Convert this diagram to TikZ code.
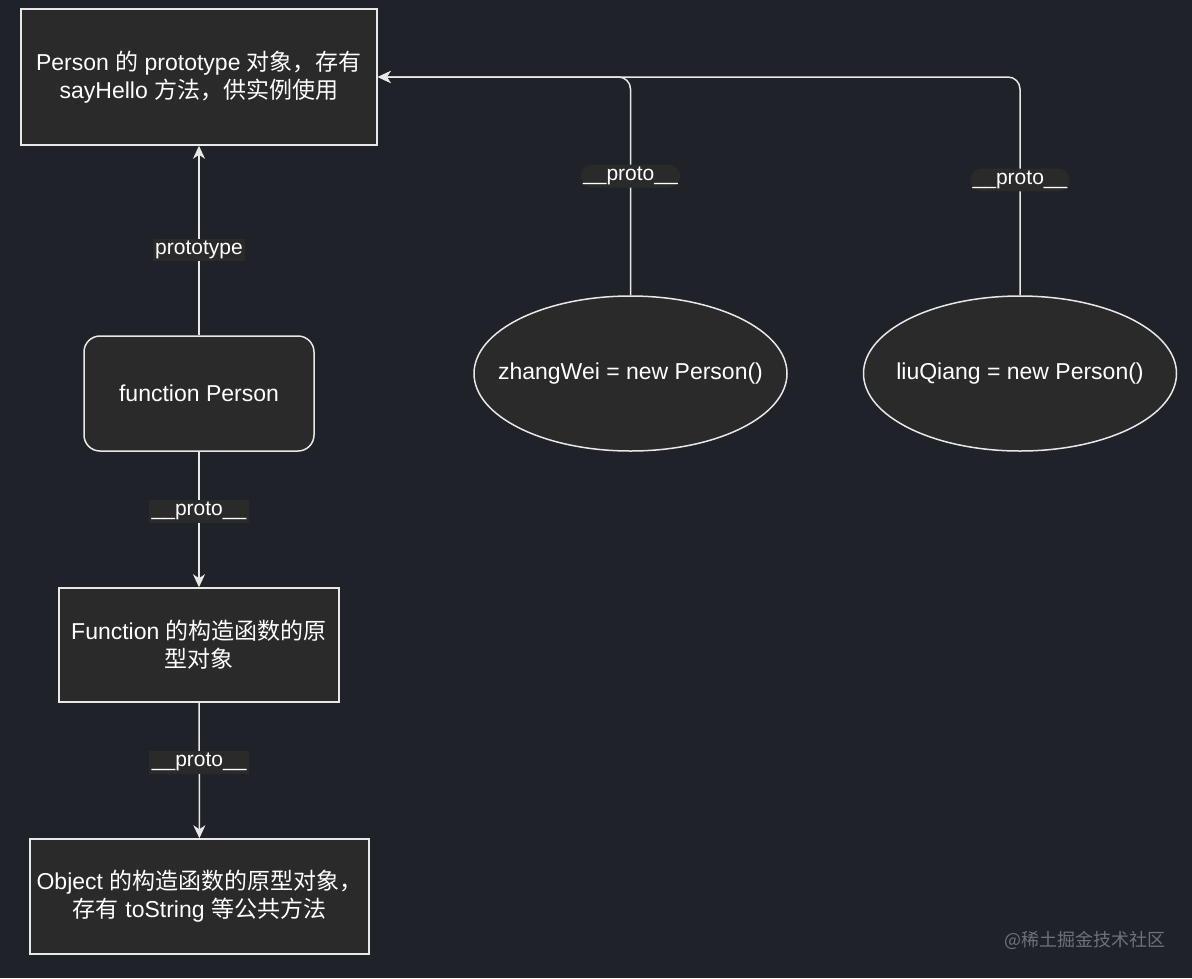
\documentclass[tikz,border=0pt]{standalone}
\usepackage{fontspec}
\setmainfont{Liberation Sans}
\newfontfamily\cjk{Noto Sans CJK SC}
\usetikzlibrary{arrows.meta,shapes.geometric}
\definecolor{bgc}{HTML}{1F2229}
\definecolor{boxc}{HTML}{2A2A2A}
\definecolor{linec}{HTML}{E8E8E8}
\definecolor{wmc}{HTML}{6E7178}
\tikzset{
  x=1pt,y=-1pt,
  every node/.style={text=white,font=\fontsize{23}{28}\selectfont},
  sqbox/.style={draw=linec,line width=1.5pt,fill=boxc,inner sep=0pt,align=center},
  rbox/.style={sqbox,rounded corners=16pt},
  ell/.style={ellipse,draw=linec,line width=1.5pt,fill=boxc,inner sep=0pt,minimum width=313pt,minimum height=155pt},
  conn/.style={draw=linec,line width=1.5pt,-{Stealth[length=13pt,width=12pt,inset=4pt]}},
  lbl/.style={fill=boxc,inner sep=2.5pt,font=\fontsize{21}{24}\selectfont},
}
\begin{document}
\begin{tikzpicture}
\fill[bgc] (0,0) rectangle (1192,978);
\useasboundingbox (0,0) rectangle (1192,978);

\node[sqbox,minimum width=356pt,minimum height=136pt] (pp) at (199,77)
  {Person {\cjk 的} prototype {\cjk 对象，存有}\\sayHello {\cjk 方法，供实例使用}};
\node[rbox,minimum width=230pt,minimum height=115pt] (fp) at (199,393.5) {function Person};
\node[sqbox,minimum width=280pt,minimum height=114pt] (fn) at (199,645)
  {Function {\cjk 的构造函数的原}\\{\cjk 型对象}};
\node[sqbox,minimum width=339pt,minimum height=115pt] (ob) at (199.5,896.5)
  {Object {\cjk 的构造函数的原型对象，}\\{\cjk 存有} toString {\cjk 等公共方法}};
\node[ell] (zw) at (630.5,373.5) {\makebox[0pt]{zhangWei = new Person()}};
\node[ell] (lq) at (1020,373.5) {\makebox[0pt]{liuQiang = new Person()}};

\draw[conn] (fp) -- node[lbl,pos=0.45] {prototype} (pp);
\draw[conn] (fp) -- node[lbl,pos=0.44] {\_\_proto\_\_} (fn);
\draw[conn] (fn) -- node[lbl,pos=0.44] {\_\_proto\_\_} (ob);
\draw[conn,rounded corners=12pt] (zw.north) |- node[lbl,pos=0.273] {\_\_proto\_\_} (pp.east);
\draw[conn,rounded corners=12pt] (lq.north) |- node[lbl,pos=0.264] {\_\_proto\_\_} (pp.east);

\node[text=wmc,font=\cjk\fontsize{18}{20}\selectfont] (wm) at (1085,940) {@稀土掘金技术社区};
\end{tikzpicture}
\end{document}
